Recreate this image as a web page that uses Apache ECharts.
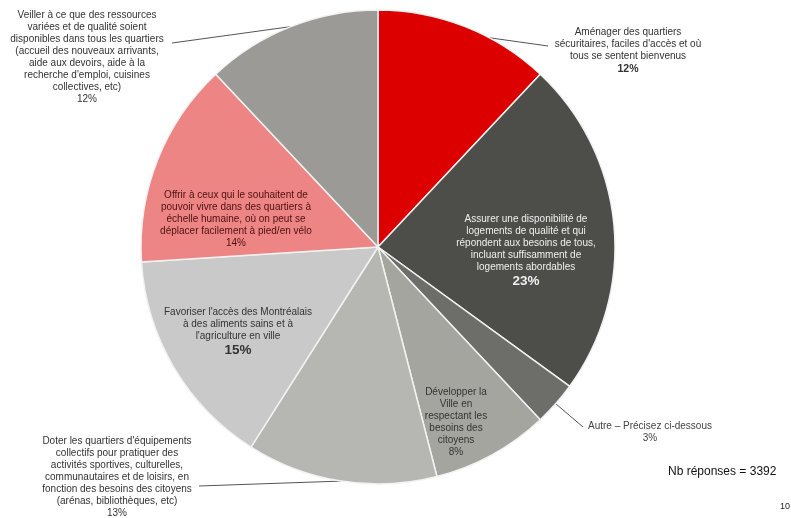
<!DOCTYPE html>
<html>
<head>
<meta charset="utf-8">
<script src="https://cdn.jsdelivr.net/npm/echarts@6/dist/echarts.min.js"></script>
<style>
  html, body { margin: 0; padding: 0; background: #ffffff; }
  #chart { width: 791px; height: 518px; }
</style>
</head>
<body>
<div id="chart"></div>
<script>
// Priorités des répondants (% des réponses), dans le sens horaire à partir du haut
const categories = [
  "Aménager des quartiers\nsécuritaires, faciles d'accès et où\ntous se sentent bienvenus",
  "Assurer une disponibilité de\nlogements de qualité et qui\nrépondent aux besoins de tous,\nincluant suffisamment de\nlogements abordables",
  "Autre – Précisez ci-dessous",
  "Développer la\nVille en\nrespectant les\nbesoins des\ncitoyens",
  "Doter les quartiers d'équipements\ncollectifs pour pratiquer des\nactivités sportives, culturelles,\ncommunautaires et de loisirs, en\nfonction des besoins des citoyens\n(arénas, bibliothèques, etc)",
  "Favoriser l'accès des Montréalais\nà des aliments sains et à\nl'agriculture en ville",
  "Offrir à ceux qui le souhaitent de\npouvoir vivre dans des quartiers à\néchelle humaine, où on peut se\ndéplacer facilement à pied/en vélo",
  "Veiller à ce que des ressources\nvariées et de qualité soient\ndisponibles dans tous les quartiers\n(accueil des nouveaux arrivants,\naide aux devoirs, aide à la\nrecherche d'emploi, cuisines\ncollectives, etc)"
];
const percents = [12, 23, 3, 8, 13, 15, 14, 12];
const totalResponses = 3392;

// Styles des parts et des étiquettes
const sliceColors = ['#dd0000', '#4d4d49', '#6d6d69', '#a5a59f', '#b6b6b3', '#c9c9c9', '#ee8585', '#9b9a96'];
const labelColors = ['#333333', '#efefef', '#444444', '#333333', '#333333', '#333333', '#4d1010', '#333333'];
const pctStyle = ['bs', 'b', 'n', 'n', 'n', 'b', 'n', 'n'];
const insideLabel = [false, true, false, true, false, true, true, false];

// Géométrie du disque
const PIE_CX = 378, PIE_CY = 247, PIE_R = 237;

// Emplacement des étiquettes et extrémités des lignes de rappel
const labelPlacement = [
  { x: 628, y: 51, line: [548, 46], edgeAngle: 62 },
  { x: 526, y: 251 },
  { x: 650, y: 432, line: [583, 427] },
  { x: 456, y: 422 },
  { x: 117, y: 477, line: [199, 486] },
  { x: 238, y: 332 },
  { x: 236, y: 219 },
  { x: 87, y: 57, line: [172, 43] }
];

const seriesData = categories.map((name, i) => ({
  name: name,
  value: percents[i],
  itemStyle: { color: sliceColors[i] },
  label: {
    position: insideLabel[i] ? 'inside' : 'outside',
    color: labelColors[i],
    formatter: (p) => p.name + '\n{' + pctStyle[i] + '|' + p.value + '%}'
  },
  labelLine: { show: !insideLabel[i] }
}));

const chart = echarts.init(document.getElementById('chart'), null, { renderer: 'canvas' });

chart.setOption({
  backgroundColor: '#ffffff',
  animation: false,
  title: [
    {
      text: 'Nb réponses = ' + totalResponses,
      left: 663, top: 461,
      textStyle: { fontFamily: 'Liberation Sans', fontSize: 12, fontWeight: 'normal', color: '#111111' }
    },
    {
      text: '10',
      left: 775, top: 497,
      textStyle: { fontFamily: 'Liberation Sans', fontSize: 9, fontWeight: 'normal', color: '#222222' }
    }
  ],
  series: [{
    type: 'pie',
    center: [PIE_CX, PIE_CY],
    radius: PIE_R,
    startAngle: 90,
    clockwise: true,
    avoidLabelOverlap: false,
    silent: true,
    emphasis: { disabled: true },
    itemStyle: { borderColor: '#f2f2f2', borderWidth: 1.5 },
    label: {
      fontFamily: 'Liberation Sans',
      fontSize: 10,
      lineHeight: 12,
      align: 'center',
      rich: {
        n: { fontSize: 10, lineHeight: 12 },
        bs: { fontSize: 10.5, fontWeight: 'bold', lineHeight: 13 },
        b: { fontSize: 13.5, fontWeight: 'bold', lineHeight: 16 }
      }
    },
    labelLine: {
      length: 10,
      length2: 10,
      lineStyle: { color: '#555555', width: 1 }
    },
    labelLayout: function (params) {
      const p = labelPlacement[params.dataIndex];
      const out = { x: p.x, y: p.y, align: p.align || 'center', verticalAlign: 'middle' };
      if (p.line && params.labelLinePoints) {
        let start = params.labelLinePoints[0];
        if (p.edgeAngle != null) {
          const a = p.edgeAngle * Math.PI / 180;
          start = [PIE_CX + PIE_R * Math.cos(a), PIE_CY - PIE_R * Math.sin(a)];
        }
        const mid = [(start[0] + p.line[0]) / 2, (start[1] + p.line[1]) / 2];
        out.labelLinePoints = [start, mid, p.line];
      }
      return out;
    },
    data: seriesData
  }]
});
</script>
</body>
</html>
